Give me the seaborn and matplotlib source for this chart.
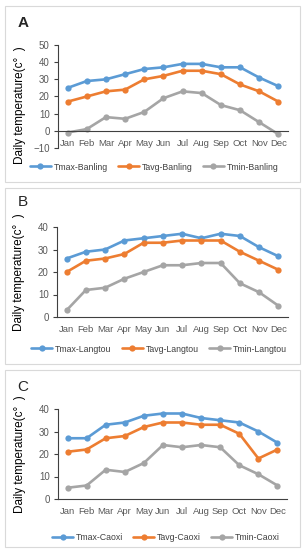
import pandas as pd
import numpy as np
import matplotlib
matplotlib.use("Agg")
import matplotlib.pyplot as plt
import seaborn as sns
from matplotlib.patches import Rectangle
from matplotlib.ticker import FixedLocator

sns.set_style("white")
plt.rcParams['font.family'] = ['Liberation Sans', 'DejaVu Sans']

months = ["Jan", "Feb", "Mar", "Apr", "May", "Jun", "Jul", "Aug", "Sep", "Oct", "Nov", "Dec"]

# Banling
tmax_banling = [25, 29, 30, 33, 36, 37, 39, 39, 37, 37, 31, 26]
tavg_banling = [17, 20, 23, 24, 30, 32, 35, 35, 33, 27, 23, 17]
tmin_banling = [-1, 1, 8, 7, 11, 19, 23, 22, 15, 12, 5, -2]

# Langtou
tmax_langtou = [26, 29, 30, 34, 35, 36, 37, 35, 37, 36, 31, 27]
tavg_langtou = [20, 25, 26, 28, 33, 33, 34, 34, 34, 29, 25, 21]
tmin_langtou = [3, 12, 13, 17, 20, 23, 23, 24, 24, 15, 11, 5]

# Caoxi
tmax_caoxi = [27, 27, 33, 34, 37, 38, 38, 36, 35, 34, 30, 25]
tavg_caoxi = [21, 22, 27, 28, 32, 34, 34, 33, 33, 29, 18, 22]
tmin_caoxi = [5, 6, 13, 12, 16, 24, 23, 24, 23, 15, 11, 6]

colors = ["#5B9BD5", "#ED7D31", "#A5A5A5"]
W, H = 304, 550


def to_df(station, tmax, tavg, tmin):
    rows = []
    for name, vals in [("Tmax", tmax), ("Tavg", tavg), ("Tmin", tmin)]:
        for i, v in enumerate(vals):
            rows.append({"x": i, "month": months[i], "value": v,
                         "series": f"{name}-{station}"})
    return pd.DataFrame(rows)


def fig_rect(left, top, right, bottom):
    return [left / W, 1 - bottom / H, (right - left) / W, (bottom - top) / H]


panels = [
    dict(letter="A", bold=True, station="Banling", data=(tmax_banling, tavg_banling, tmin_banling),
         box=(5, 6, 300, 182), ax=(58, 45, 288, 148), ylim=(-10, 50), letter_y=23, leg=(154, 167)),
    dict(letter="B", bold=False, station="Langtou", data=(tmax_langtou, tavg_langtou, tmin_langtou),
         box=(5, 188, 300, 364), ax=(57, 227, 288, 317), ylim=(0, 40), letter_y=202, leg=(159, 349)),
    dict(letter="C", bold=False, station="Caoxi", data=(tmax_caoxi, tavg_caoxi, tmin_caoxi),
         box=(5, 370, 300, 547), ax=(58, 409, 287, 499), ylim=(0, 40), letter_y=387, leg=(166, 538)),
]

fig = plt.figure(figsize=(W / 100, H / 100), dpi=100)

for p in panels:
    l, t, r, b = p["box"]
    fig.patches.append(Rectangle((l / W, 1 - b / H), (r - l) / W, (b - t) / H,
                                 transform=fig.transFigure, fill=False,
                                 edgecolor="#D9D9D9", linewidth=0.8))
    fig.text(23 / W, 1 - p["letter_y"] / H, p["letter"], fontsize=11,
             fontweight="bold" if p["bold"] else "normal", ha="center", va="center")

    ax = fig.add_axes(fig_rect(*p["ax"]))
    df = to_df(p["station"], *p["data"])
    sns.lineplot(data=df, x="x", y="value", hue="series", palette=colors,
                 marker="o", markersize=4.5, markeredgewidth=0, linewidth=1.9,
                 ax=ax, legend=True)

    ax.set_xlim(-0.5, 11.5)
    ax.set_ylim(*p["ylim"])
    ax.set_yticks(np.arange(p["ylim"][0], p["ylim"][1] + 1, 10))
    ax.set_xticks(range(12))
    ax.set_xticklabels(months)
    ax.xaxis.set_minor_locator(FixedLocator(np.arange(-0.5, 12, 1)))
    ax.tick_params(axis="x", which="major", length=0, labelsize=6.8, colors="#595959", pad=6)
    ax.tick_params(axis="x", which="minor", length=3, width=0.8, color="#404040", direction="out")
    ax.tick_params(axis="y", length=3, width=0.8, color="#404040", direction="out",
                   labelsize=7, labelcolor="#595959", left=True, pad=3)
    ax.set_xlabel("")
    ax.set_ylabel("Daily temperature(c°  )", fontsize=8.5, color="black")
    ax.yaxis.set_label_coords(-0.14, 0.5 if p["letter"] != "A" else 0.42)

    for s in ["top", "right"]:
        ax.spines[s].set_visible(False)
    for s in ["left", "bottom"]:
        ax.spines[s].set_color("#404040")
        ax.spines[s].set_linewidth(0.8)
    ax.spines["bottom"].set_position(("data", 0))
    ax.grid(False)

    handles, labels = ax.get_legend_handles_labels()
    ax.get_legend().remove()
    lx, ly = p["leg"]
    fig.legend(handles, labels, loc="center", bbox_to_anchor=(lx / W, 1 - ly / H),
               ncol=3, frameon=False, fontsize=6.3, handlelength=2.4,
               columnspacing=1.2, handletextpad=0.3, labelcolor="#404040")

fig.savefig("out.png", dpi=100)
